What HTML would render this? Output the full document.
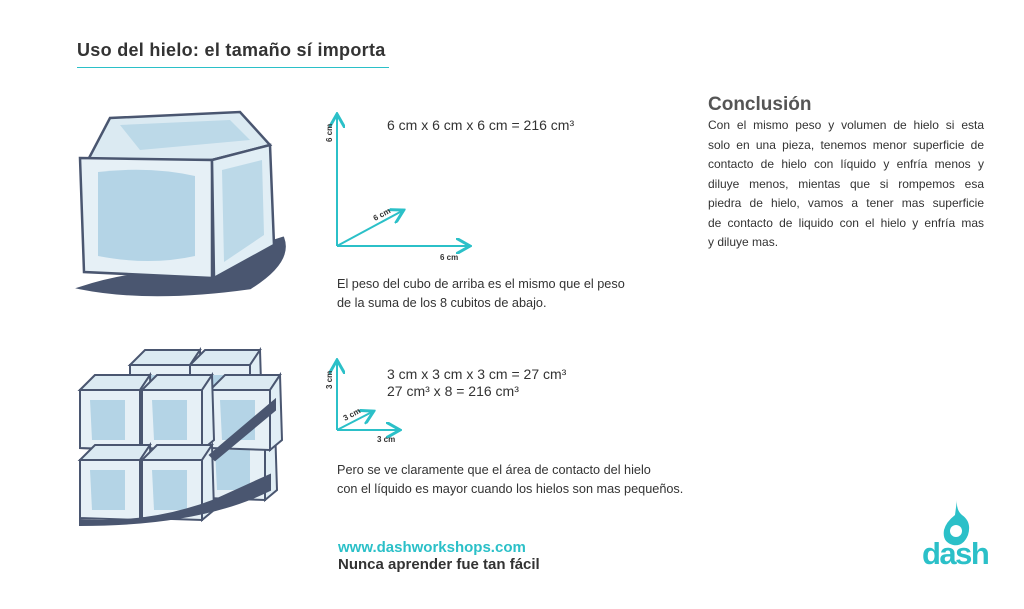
<!DOCTYPE html>
<html><head><meta charset="utf-8"><style>
body{margin:0;width:1024px;height:609px;background:#fff;position:relative;overflow:hidden;font-family:"Liberation Sans",sans-serif;color:#333}
.t{position:absolute;white-space:nowrap}
.cl div{text-align:justify;text-align-last:justify;white-space:nowrap}
</style></head><body>
<div class="t" style="left:77px;top:40px;font-size:18px;font-weight:bold;color:#333;letter-spacing:0.3px">Uso del hielo: el tamaño sí importa</div>
<div style="position:absolute;left:77px;top:67px;width:312px;height:1px;background:#2bc0c8"></div>

<svg width="1024" height="609" style="position:absolute;left:0;top:0">
<defs><marker id="a" markerWidth="8" markerHeight="8" refX="6" refY="4" orient="auto"><path d="M0,0 L7,4 L0,8" fill="none" stroke="#2bc0c8" stroke-width="1.5"/></marker></defs>
<g stroke="#4a5670" stroke-width="2.5" fill="none">
<path d="M80,288 Q150,302 250,288 Q292,262 283,238 Q250,248 210,272 Q140,268 80,288Z" fill="#4a5670"/>
<path d="M88,160 L110,118 L240,112 L270,145 L212,160 Z" fill="#dbeaf2"/>
<path d="M80,158 L212,160 L212,278 L84,272 Z" fill="#e6f0f6"/>
<path d="M212,160 L270,145 L274,245 L214,278 Z" fill="#e1eef5"/>
<path d="M98,172 Q150,166 195,176 L195,256 Q150,266 98,256Z" fill="#b4d4e6" stroke="none"/>
<path d="M222,170 L262,160 L264,235 L224,262Z" fill="#bcd9e8" stroke="none"/>
<path d="M120,125 L230,120 L250,140 L140,150Z" fill="#bcd9e8" stroke="none"/>
</g>
<g stroke="#4a5670" stroke-width="2">
<g id="c"><path d="M80,390 L95,375 L150,375 L140,390Z" fill="#dbeaf2"/><path d="M80,390 L140,390 L140,450 L80,448Z" fill="#e6f0f6"/><path d="M140,390 L150,375 L152,440 L140,450Z" fill="#e1eef5"/><path d="M90,400 L125,400 L125,440 L92,440Z" fill="#b4d4e6" stroke="none"/></g>
<use href="#c" x="50" y="-25"/><use href="#c" x="110" y="-25"/><use href="#c" x="125" y="50"/><use href="#c" x="130" y="0"/>
<use href="#c" x="0" y="0"/><use href="#c" x="62" y="0"/><use href="#c" x="0" y="70"/><use href="#c" x="62" y="70"/>
<path d="M80,520 Q150,525 215,500 L270,475 L270,490 Q200,525 80,525Z" fill="#4a5670"/>
<path d="M210,455 L275,400 L275,410 L215,460Z" fill="#4a5670"/>
</g>
<g stroke="#2bc0c8" stroke-width="2" fill="none">
<line x1="337" y1="246" x2="337" y2="116" marker-end="url(#a)"/>
<line x1="337" y1="246" x2="468" y2="246" marker-end="url(#a)"/>
<line x1="337" y1="246" x2="402" y2="211" marker-end="url(#a)"/>
<line x1="337" y1="430" x2="337" y2="362" marker-end="url(#a)"/>
<line x1="337" y1="430" x2="398" y2="430" marker-end="url(#a)"/>
<line x1="337" y1="430" x2="372" y2="412" marker-end="url(#a)"/>
</g>
<g font-family="Liberation Sans" font-size="8" font-weight="bold" fill="#333">
<text x="0" y="0" transform="translate(332,142) rotate(-90)">6 cm</text>
<text x="440" y="260">6 cm</text>
<text x="0" y="0" transform="translate(375,221) rotate(-28)">6 cm</text>
<text x="0" y="0" transform="translate(332,389) rotate(-90)">3 cm</text>
<text x="377" y="442">3 cm</text>
<text x="0" y="0" transform="translate(345,421) rotate(-28)">3 cm</text>
</g>
<g fill="#2bc0c8"><path d="M957,500 Q956,510 962,515 Q972,522 968,535 Q963,547 953,545 Q942,542 944,530 Q946,522 955,515Z"/><circle cx="956" cy="531" r="6" fill="#fff"/></g>
</svg>
<div class="t" style="left:387px;top:117px;font-size:14px">6 cm x 6 cm x 6 cm = 216 cm³</div>
<div class="t" style="left:337px;top:275px;font-size:12.7px;line-height:19px">El peso del cubo de arriba es el mismo que el peso<br>de la suma de los 8 cubitos de abajo.</div>
<div class="t" style="left:387px;top:366px;font-size:14px;line-height:17px">3 cm x 3 cm x 3 cm = 27 cm³<br>27 cm³ x 8 = 216 cm³</div>
<div class="t" style="left:337px;top:461px;font-size:12.7px;line-height:19px">Pero se ve claramente que el área de contacto del hielo<br>con el líquido es mayor cuando los hielos son mas pequeños.</div>
<div class="t" style="left:338px;top:539px;font-size:15px;font-weight:bold;color:#2bc0c8">www.dashworkshops.com</div>
<div class="t" style="left:338px;top:556px;font-size:15px;font-weight:bold;color:#333">Nunca aprender fue tan fácil</div>
<div class="t" style="left:708px;top:94px;font-size:19px;font-weight:bold;color:#555">Conclusión</div>
<div class="cl" style="position:absolute;left:708px;top:116px;width:276px;font-size:12px;line-height:19.5px;color:#333">
<div>Con el mismo peso y volumen de hielo si esta</div>
<div>solo en una pieza, tenemos menor superficie de</div>
<div>contacto de hielo con líquido y enfría menos y</div>
<div>diluye menos, mientas que si rompemos esa</div>
<div>piedra de hielo, vamos a tener mas superficie</div>
<div>de contacto de liquido con el hielo y enfría mas</div>
<div style="text-align-last:left">y diluye mas.</div>
</div>
<div class="t" style="left:922px;top:537px;font-size:31px;font-weight:bold;color:#2bc0c8;letter-spacing:-1.5px;line-height:34px">dash</div>
</body></html>
